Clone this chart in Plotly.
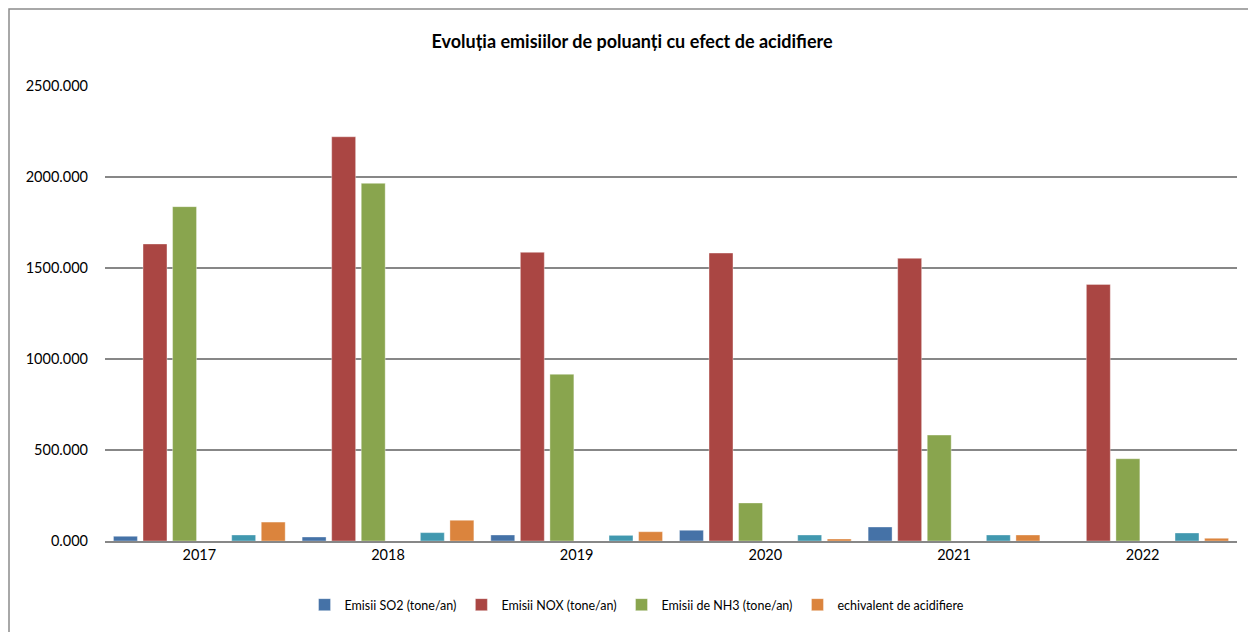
import plotly.graph_objects as go

years = ["2017", "2018", "2019", "2020", "2021", "2022"]
so2 = [26, 22, 33, 59, 77, 0]
nox = [1632, 2221, 1586, 1582, 1553, 1410]
nh3 = [1837, 1965, 916, 209, 582, 452]
series4 = [None, None, None, None, None, None]
series5 = [33, 46, 31, 33, 33, 44]
echiv = [104, 114, 51, 11, 33, 15]

names = ["Emisii SO2 (tone/an)", "Emisii NOX (tone/an)", "Emisii de NH3 (tone/an)",
         "Serie 4", "Serie 5", "echivalent de acidifiere"]
colors = ["#4572A7", "#AA4643", "#89A54E", "#71588F", "#4198AF", "#DB843D"]
values = [so2, nox, nh3, series4, series5, echiv]
show = [True, True, True, False, False, True]

fig = go.Figure()
for n, c, v, s in zip(names, colors, values, show):
    fig.add_trace(go.Bar(x=years, y=v, name=n, marker_color=c,
                         marker_line=dict(color="rgba(255,255,255,0.6)", width=0.6),
                         showlegend=s))

# page body has an 8px margin, so figure is drawn 8px right/down
W, H = 1248, 624
L, R, T, B = 97, 19, 78, 91
pw, ph = W - L - R, H - T - B

fig.update_layout(
    width=W, height=H,
    margin=dict(l=L, r=R, t=T, b=B),
    paper_bgcolor="white", plot_bgcolor="white",
    barmode="group", bargap=0.06, bargroupgap=0.19,
    font=dict(family="Lato, 'Open Sans', sans-serif", color="#000000"),
    title=dict(text="<b>Evoluția emisiilor de poluanți cu efect de acidifiere</b>",
               x=0.5, xref="container", xanchor="center",
               y=1 - 34 / H, yref="container", yanchor="middle",
               font=dict(size=18, family="Lato, sans-serif")),
    legend=dict(orientation="h", x=0.47, xref="paper", xanchor="center",
                y=-(597 - 533) / ph, yanchor="middle",
                font=dict(size=12.5), traceorder="normal",
                itemwidth=30),
    xaxis=dict(showgrid=False, showline=True, linecolor="#878787", linewidth=1.5,
               tickfont=dict(size=14.5), ticks="", ticklen=0),
    yaxis=dict(range=[0, 2500], tickvals=[0, 500, 1000, 1500, 2000, 2500],
               tickformat=".3f", showgrid=True, gridcolor="#878787", gridwidth=1.5,
               zeroline=False, showline=False, tickfont=dict(size=14.5), ticks="",
               ticklabelstandoff=16),
    shapes=[dict(type="rect", xref="paper", yref="paper",
                 x0=(1 - L) / pw, x1=(1241 - L) / pw,
                 y0=(ph + T - H - 10) / ph, y1=(ph + T - 1) / ph,
                 line=dict(color="#8c8c8c", width=1.5), fillcolor="rgba(0,0,0,0)",
                 layer="below")],
)

fig.write_html("out.html")
